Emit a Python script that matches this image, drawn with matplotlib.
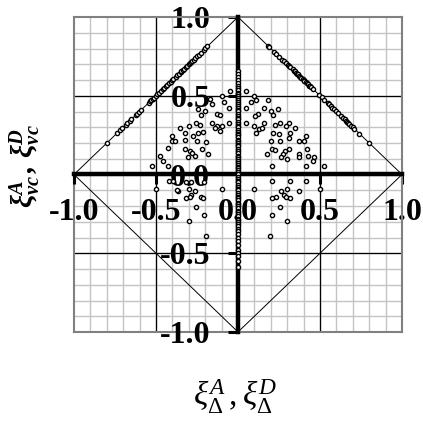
import matplotlib
matplotlib.use('Agg')
import matplotlib.pyplot as plt
import numpy as np

plt.rcParams['font.family'] = ['Liberation Serif', 'DejaVu Serif']
plt.rcParams['mathtext.fontset'] = 'custom'
plt.rcParams['mathtext.rm'] = 'Liberation Serif'
plt.rcParams['mathtext.it'] = 'Liberation Serif:italic'
plt.rcParams['mathtext.bf'] = 'Liberation Serif:bold:italic'
plt.rcParams['axes.unicode_minus'] = False

# points sitting on the upper-left edge of the diamond
edge_l_x = [-0.797, -0.736, -0.72, -0.705, -0.685, -0.675, -0.66, -0.65, -0.624, -0.614,
            -0.604, -0.59, -0.543, -0.535, -0.528, -0.52, -0.512, -0.50, -0.492, -0.48,
            -0.467, -0.46, -0.451, -0.44, -0.431, -0.42, -0.41, -0.40, -0.394, -0.38,
            -0.37, -0.36, -0.35, -0.346, -0.335, -0.329, -0.32, -0.309, -0.30, -0.293,
            -0.285, -0.279, -0.27, -0.26, -0.248, -0.24, -0.228, -0.21, -0.20, -0.187]
edge_l_y = [0.203, 0.264, 0.28, 0.295, 0.315, 0.325, 0.34, 0.35, 0.376, 0.386,
            0.396, 0.41, 0.457, 0.465, 0.472, 0.48, 0.488, 0.50, 0.508, 0.52,
            0.533, 0.54, 0.549, 0.56, 0.569, 0.58, 0.59, 0.60, 0.606, 0.62,
            0.63, 0.64, 0.65, 0.654, 0.665, 0.671, 0.68, 0.691, 0.70, 0.707,
            0.715, 0.721, 0.73, 0.74, 0.752, 0.76, 0.772, 0.79, 0.80, 0.813]

# points sitting on the upper-right edge of the diamond
edge_r_x = [0.181, 0.19, 0.22, 0.232, 0.252, 0.27, 0.28, 0.293, 0.303, 0.313,
            0.32, 0.333, 0.34, 0.345, 0.354, 0.36, 0.365, 0.374, 0.38, 0.385,
            0.394, 0.40, 0.405, 0.415, 0.42, 0.425, 0.435, 0.44, 0.445, 0.455,
            0.496, 0.51, 0.526, 0.547, 0.555, 0.567, 0.575, 0.587, 0.595, 0.608,
            0.628, 0.64, 0.65, 0.659, 0.665, 0.67, 0.679, 0.69, 0.699, 0.71,
            0.74, 0.8]
edge_r_y = [0.819, 0.81, 0.78, 0.768, 0.748, 0.73, 0.72, 0.707, 0.697, 0.687,
            0.68, 0.667, 0.66, 0.655, 0.646, 0.64, 0.635, 0.626, 0.62, 0.615,
            0.606, 0.60, 0.595, 0.585, 0.58, 0.575, 0.565, 0.56, 0.555, 0.545,
            0.504, 0.49, 0.474, 0.453, 0.445, 0.433, 0.425, 0.413, 0.405, 0.392,
            0.372, 0.36, 0.35, 0.341, 0.335, 0.33, 0.321, 0.31, 0.301, 0.29,
            0.26, 0.2]

# points on the vertical axis
axis_y = [0.66, 0.64, 0.62, 0.60, 0.58, 0.565, 0.55, 0.535, 0.52, 0.51, 0.5, 0.485,
          0.47, 0.46, 0.45, 0.435, 0.42, 0.41, 0.4, 0.385, 0.37, 0.36, 0.35, 0.335,
          0.32, 0.31, 0.3, 0.285, 0.27, 0.26, 0.25, 0.235, 0.22, 0.21, 0.2, 0.19,
          0.18, 0.165, 0.15, 0.135, 0.12, 0.11, 0.1, 0.085, 0.07, 0.06, 0.05, 0.04,
          0.03, 0.015, 0.0, -0.015, -0.03, -0.04, -0.05, -0.065, -0.08, -0.09, -0.1,
          -0.115, -0.13, -0.14, -0.15, -0.165, -0.18, -0.19, -0.2, -0.215, -0.23,
          -0.24, -0.25, -0.265, -0.28, -0.29, -0.3, -0.315, -0.33, -0.345, -0.36,
          -0.38, -0.4, -0.42, -0.45, -0.48, -0.5, -0.52, -0.55, -0.59]
axis_x = [0.0] * len(axis_y)

# scattered cloud, left half
cloud_l_x = [-0.049, -0.10, -0.085, -0.053, -0.171, -0.16, -0.242, -0.201, -0.228, -0.126,
             -0.11, -0.157, -0.053, -0.126, -0.10, -0.11, -0.14, -0.258, -0.232, -0.297,
             -0.354, -0.323, -0.242, -0.212, -0.272, -0.404, -0.404, -0.384, -0.323, -0.252,
             -0.195, -0.425, -0.323, -0.293, -0.282, -0.221, -0.181, -0.303, -0.262, -0.476,
             -0.455, -0.526, -0.425,
             -0.419, -0.394, -0.317, -0.289, -0.21, -0.364, -0.297, -0.262, -0.5, -0.1,
             -0.37, -0.289, -0.293, -0.317, -0.228, -0.211, -0.256, -0.207, -0.297, -0.195]
cloud_l_y = [0.529, 0.50, 0.459, 0.423, 0.48, 0.45, 0.417, 0.402, 0.375, 0.381,
             0.375, 0.328, 0.328, 0.307, 0.307, 0.275, 0.296, 0.328, 0.317, 0.307,
             0.296, 0.265, 0.265, 0.269, 0.243, 0.243, 0.212, 0.212, 0.222, 0.212,
             0.205, 0.169, 0.159, 0.148, 0.138, 0.159, 0.127, 0.112, 0.116, 0.116,
             0.085, 0.057, 0.057,
             -0.042, -0.042, -0.047, -0.047, -0.046, -0.102, -0.095, -0.102, -0.095, -0.095,
             -0.10, -0.131, -0.144, -0.152, -0.144, -0.152, -0.207, -0.254, -0.296, -0.392]

# scattered cloud, right half
cloud_r_x = [0.049, 0.10, 0.079, 0.11, 0.049, 0.181, 0.16, 0.201, 0.242, 0.211,
             0.12, 0.106, 0.049, 0.10, 0.13, 0.146, 0.16, 0.11, 0.228, 0.258,
             0.313, 0.293, 0.35, 0.211, 0.248, 0.319, 0.309, 0.415, 0.37, 0.404,
             0.201, 0.258, 0.419, 0.207, 0.228, 0.313, 0.288, 0.272, 0.175, 0.262,
             0.297, 0.37, 0.37, 0.425, 0.465, 0.459, 0.415, 0.526, 0.207,
             0.207, 0.319, 0.415, 0.1, 0.5, 0.262, 0.297, 0.37, 0.282, 0.232,
             0.207, 0.293, 0.319, 0.258, 0.207, 0.297, 0.197]
cloud_r_y = [0.529, 0.50, 0.459, 0.472, 0.423, 0.472, 0.423, 0.402, 0.413, 0.375,
             0.381, 0.37, 0.328, 0.307, 0.29, 0.296, 0.328, 0.265, 0.317, 0.328,
             0.328, 0.307, 0.296, 0.265, 0.254, 0.265, 0.233, 0.243, 0.212, 0.212,
             0.212, 0.212, 0.165, 0.163, 0.154, 0.163, 0.148, 0.133, 0.127, 0.112,
             0.10, 0.127, 0.112, 0.12, 0.112, 0.085, 0.053, 0.057, 0.053,
             -0.042, -0.042, -0.042, -0.095, -0.095, -0.102, -0.095, -0.102, -0.131, -0.144,
             -0.152, -0.144, -0.152, -0.207, -0.254, -0.296, -0.392]

ticks = [-1.0, -0.5, 0.0, 0.5, 1.0]
tick_labels = ['-1.0', '-0.5', '0.0', '0.5', '1.0']

# diamond outline |x| + |y| = 1
diamond_x = [-1, 0, 1, 0, -1]
diamond_y = [0, 1, 0, -1, 0]

fig = plt.figure(figsize=(4.23, 4.23), dpi=100)
ax = fig.add_axes([74 / 423, 1 - 332 / 423, 328 / 423, 315 / 423])
ax.set_xlim(-1, 1)
ax.set_ylim(-1, 1)

# grid: fine lines every 0.1, darker ones at +-0.5
for v in np.arange(-0.9, 0.95, 0.1):
    ax.axvline(v, color='#c4c4c4', lw=1.0, zorder=0)
    ax.axhline(v, color='#c4c4c4', lw=1.0, zorder=0)
for v in [-0.5, 0.5]:
    ax.axvline(v, color='black', lw=0.9, zorder=1)
    ax.axhline(v, color='black', lw=0.9, zorder=1)

ax.plot(diamond_x, diamond_y, color='black', lw=0.7, zorder=2)

mk = dict(ls='none', marker='o', ms=3.0, mfc='white', mec='black', mew=1.0, zorder=4)
ax.plot(edge_l_x, edge_l_y, **mk)
ax.plot(edge_r_x, edge_r_y, **mk)
ax.plot(cloud_l_x, cloud_l_y, **mk)
ax.plot(cloud_r_x, cloud_r_y, **mk)
ax.plot(axis_x, axis_y, **mk)

# axes crossing at the origin, gray frame around the plot
for s in ['left', 'bottom']:
    ax.spines[s].set_position(('data', 0))
    ax.spines[s].set_linewidth(3.2)
    ax.spines[s].set_zorder(3)
for s in ['top', 'right']:
    ax.spines[s].set_color('#808080')
    ax.spines[s].set_linewidth(1.5)
ax.plot([-1, -1], [-1, 1], color='#808080', lw=1.5, clip_on=False, zorder=1)
ax.plot([-1, 1], [-1, -1], color='#808080', lw=1.5, clip_on=False, zorder=1)

ax.set_xticks(ticks)
ax.set_yticks(ticks)
ax.set_xticklabels(tick_labels)
ax.set_yticklabels(tick_labels)
ax.tick_params(axis='both', direction='out', length=7, width=2.2, labelsize=23)
ax.tick_params(axis='x', pad=10)
ax.tick_params(axis='y', pad=13)
for lab in ax.get_xticklabels() + ax.get_yticklabels():
    lab.set_fontweight('bold')

fig.text(25 / 423, 1 - 166 / 423, r'$\mathbf{\xi_{vc}^{A}\,,\,\xi_{vc}^{D}}$',
         rotation=90, ha='center', va='center', fontsize=21)
fig.text(235 / 423, 1 - 397 / 423, r'$\xi_{\Delta}^{A}\,,\xi_{\Delta}^{D}$',
         ha='center', va='center', fontsize=24)

fig.savefig('out.png', dpi=100)
